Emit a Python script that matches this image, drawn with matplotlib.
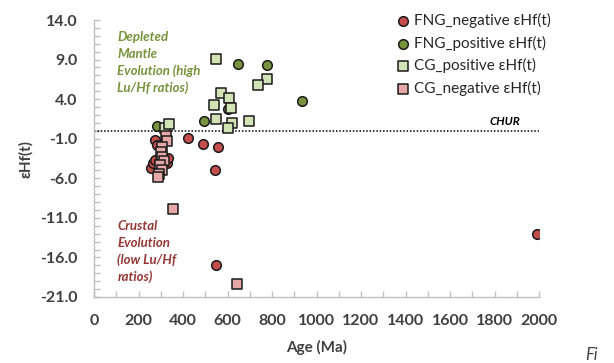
import matplotlib
matplotlib.use("Agg")
import matplotlib.pyplot as plt
from matplotlib.ticker import MultipleLocator, FormatStrFormatter

plt.rcParams['font.family'] = ['Lato', 'DejaVu Sans']

# Age (Ma) and εHf(t) for each group
fng_neg_age = [256, 267, 274, 274, 282, 290, 300, 327, 334, 421, 488, 556, 545, 547, 1993]
fng_neg_ehf = [-4.7, -4.1, -3.65, -1.1, -1.8, -3.9, -2.5, -4.1, -3.4, -0.9, -1.7, -2.1, -5.0, -16.9, -13.1]

fng_pos_age = [282, 493, 604, 649, 779, 933]
fng_pos_ehf = [0.6, 1.2, 2.75, 8.5, 8.3, 3.8]

cg_pos_age = [319, 338, 548, 779, 738, 571, 608, 541, 614, 550, 619, 695, 601]
cg_pos_ehf = [0.3, 0.85, 9.1, 6.5, 5.8, 4.8, 4.1, 3.3, 2.85, 1.5, 1.0, 1.2, 0.3]

cg_neg_age = [324, 327, 304, 300, 304, 315, 297, 304, 294, 289, 354, 641]
cg_neg_ehf = [-0.7, -1.3, -2.1, -2.7, -3.3, -3.8, -4.3, -4.9, -5.5, -5.9, -9.9, -19.4]

labels = ["FNG_negative εHf(t)", "FNG_positive εHf(t)", "CG_positive εHf(t)", "CG_negative εHf(t)"]

fig = plt.figure(figsize=(6.14, 3.63), dpi=100)
ax = fig.add_axes([94/614, 1-297/363, 445/614, 277/363])

edge = '#1a1a1a'
ax.scatter(fng_neg_age, fng_neg_ehf, s=48, marker='o', facecolor='#C44E4B', edgecolor=edge, linewidth=1.1, label=labels[0], zorder=3)
ax.scatter(fng_pos_age, fng_pos_ehf, s=48, marker='o', facecolor='#77933C', edgecolor=edge, linewidth=1.1, label=labels[1], zorder=3)
ax.scatter(cg_pos_age, cg_pos_ehf, s=52, marker='s', facecolor='#D2E3B5', edgecolor=edge, linewidth=1.1, label=labels[2], zorder=3)
ax.scatter(cg_neg_age, cg_neg_ehf, s=52, marker='s', facecolor='#E5A8A7', edgecolor=edge, linewidth=1.1, label=labels[3], zorder=3)

# CHUR reference line
ax.axhline(0, color='black', linestyle=(0, (1, 1.2)), linewidth=1.1, zorder=2)
ax.text(1845, 0.5, "CHUR", fontsize=8.5, fontweight='bold', fontstyle='italic', ha='center', va='bottom')

ax.set_xlim(0, 2000)
ax.set_ylim(-21, 14)
ax.xaxis.set_major_locator(MultipleLocator(200))
ax.xaxis.set_minor_locator(MultipleLocator(100))
ax.yaxis.set_minor_locator(MultipleLocator(1))
ax.set_yticks([14, 9, 4, -1, -6, -11, -16, -21])
ax.yaxis.set_major_formatter(FormatStrFormatter('%.1f'))

for s in ['top', 'right']:
    ax.spines[s].set_visible(False)
for s in ['left', 'bottom']:
    ax.spines[s].set_color('#BFBFBF')
    ax.spines[s].set_linewidth(1.0)

ax.tick_params(which='both', direction='in', color='#BFBFBF', length=4, width=1.0)
ax.tick_params(axis='both', which='major', labelsize=11.5, labelcolor='#404040', pad=12)
for lab in ax.get_xticklabels() + ax.get_yticklabels():
    lab.set_fontweight('bold')

ax.set_xlabel("Age (Ma)", fontsize=11, fontweight='bold', color='#404040', labelpad=9)
ax.set_ylabel("εHf(t)", fontsize=11, fontweight='bold', color='#404040', labelpad=5)

ax.text(105, 12.6, "Depleted\nMantle\nEvolution (high\nLu/Hf ratios)", fontsize=9.5, fontweight='bold',
        fontstyle='italic', color='#77933C', ha='left', va='top', linespacing=1.45)
ax.text(105, -11.3, "Crustal\nEvolution\n(low Lu/Hf\nratios)", fontsize=9.5, fontweight='bold',
        fontstyle='italic', color='#953735', ha='left', va='top', linespacing=1.45)

fig.legend(loc='upper left', bbox_to_anchor=(394/614, 1-13/363), frameon=False, fontsize=11,
           handletextpad=0.1, labelspacing=0.5, borderaxespad=0, borderpad=0, handlelength=1.2,
           labelcolor='#262626')

fig.text(585/614, 1-355/363, "Fi", fontsize=12, fontstyle='italic', color='#404040', ha='left', va='center')

fig.savefig("out.png", dpi=100)
